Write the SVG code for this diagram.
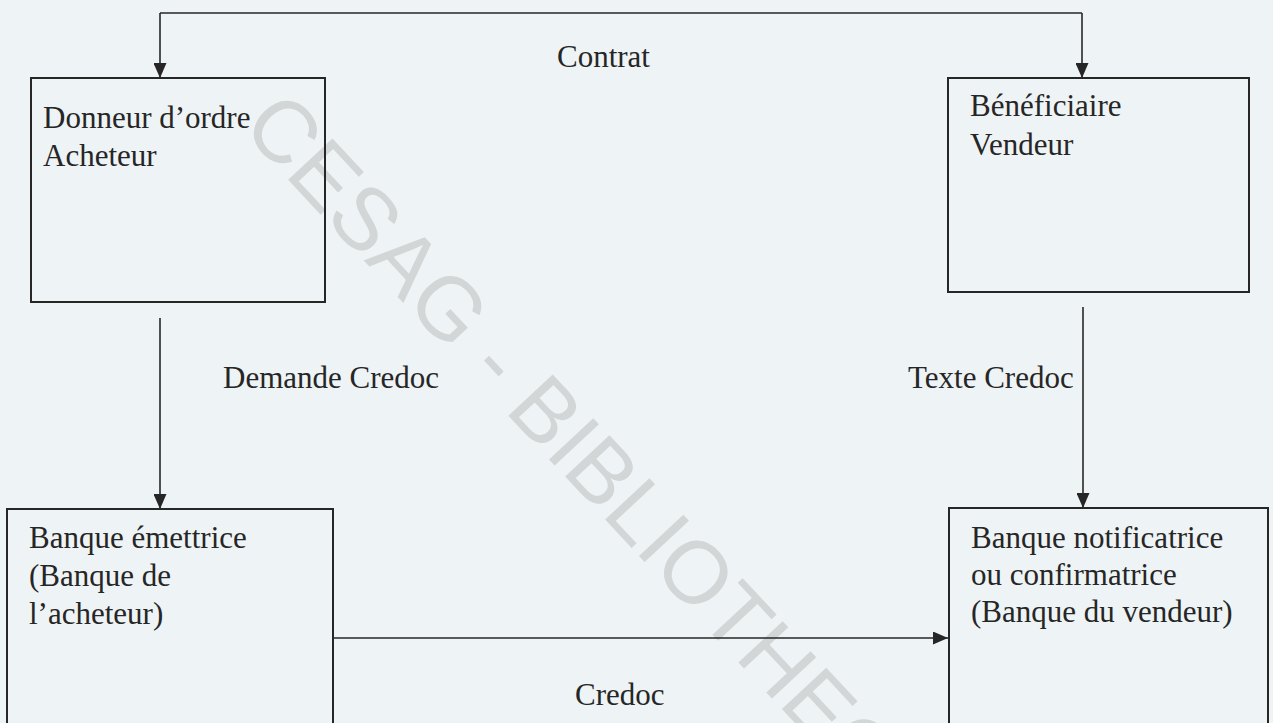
<svg xmlns="http://www.w3.org/2000/svg" width="1273" height="723" viewBox="0 0 1273 723">
<style>
.bg{fill:#eef3f5}
.box{fill:none;stroke:#262626;stroke-width:2}
.ln{fill:none;stroke:#262626;stroke-width:1.6}
.t{font-family:"Liberation Serif","Times New Roman",serif;font-size:31px;fill:#262626}
.wm{font-family:"Liberation Sans",Arial,sans-serif;font-size:88px;fill:#d3d6d7}
</style>
<defs>
<marker id="ah" markerWidth="15" markerHeight="13" refX="15" refY="6.5" orient="auto" markerUnits="userSpaceOnUse">
<path d="M0,0 L15,6.5 L0,13 Z" fill="#262626"/>
</marker>
</defs>
<rect class="bg" x="0" y="0" width="1273" height="723"/>
<text class="wm" transform="translate(240,128) rotate(47)">CESAG - BIBLIOTHEQUE</text>
<g id="connectors">
<path class="ln" d="M160,13 L1082,13"/>
<path class="ln" d="M160,13 L160,78" marker-end="url(#ah)"/>
<path class="ln" d="M1082,13 L1082,78" marker-end="url(#ah)"/>
<path class="ln" d="M160,318 L160,509" marker-end="url(#ah)"/>
<path class="ln" d="M1083,307 L1083,508" marker-end="url(#ah)"/>
<path class="ln" d="M333,638 L948,638" marker-end="url(#ah)"/>
<text class="t" x="557" y="67">Contrat</text>
<text class="t" x="223" y="388">Demande Credoc</text>
<text class="t" x="908" y="388">Texte Credoc</text>
<text class="t" x="575" y="705">Credoc</text>
</g>
<g id="donneur">
<rect class="box" x="31" y="78" width="294" height="224"/>
<text class="t" x="43" y="128">Donneur d’ordre</text>
<text class="t" x="43" y="166">Acheteur</text>
</g>
<g id="beneficiaire">
<rect class="box" x="948" y="78" width="301" height="214"/>
<text class="t" x="970" y="116">Bénéficiaire</text>
<text class="t" x="970" y="155">Vendeur</text>
</g>
<g id="banque-emettrice">
<rect class="box" x="7" y="509" width="326" height="230"/>
<text class="t" x="29" y="548">Banque émettrice</text>
<text class="t" x="29" y="586">(Banque de</text>
<text class="t" x="29" y="624">l’acheteur)</text>
</g>
<g id="banque-notificatrice">
<rect class="box" x="949" y="508" width="319" height="230"/>
<text class="t" x="971" y="548">Banque notificatrice</text>
<text class="t" x="971" y="585">ou confirmatrice</text>
<text class="t" x="971" y="622">(Banque du vendeur)</text>
</g>
</svg>
